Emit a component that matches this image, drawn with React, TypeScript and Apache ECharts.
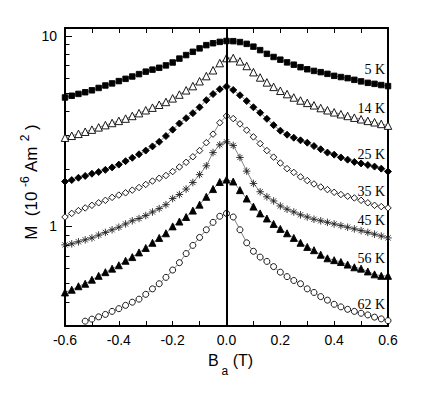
import React, { useEffect, useRef } from 'react';
import * as echarts from 'echarts';

// Applied field B_a (T)
const B_FIELD = [
  -0.6, -0.575, -0.55, -0.525, -0.5, -0.475, -0.45, -0.425, -0.4, -0.375, -0.35, -0.325,
  -0.3, -0.275, -0.25, -0.225, -0.2, -0.175, -0.15, -0.125, -0.1, -0.075, -0.05, -0.025,
  0,
  0.025, 0.05, 0.075, 0.1, 0.125, 0.15, 0.175, 0.2, 0.225, 0.25, 0.275, 0.3,
  0.325, 0.35, 0.375, 0.4, 0.425, 0.45, 0.475, 0.5, 0.525, 0.55, 0.575, 0.6,
];

// Magnetic moment M (10^-6 A m^2)
const M_5K = [
  4.75, 4.85, 4.96, 5.06, 5.18, 5.33, 5.49, 5.63, 5.79, 5.95, 6.12, 6.30,
  6.49, 6.65, 6.80, 7.00, 7.25, 7.60, 7.93, 8.25, 8.60, 8.94, 9.15, 9.30,
  9.40,
  9.38, 9.28, 9.08, 8.78, 8.42, 8.05, 7.75, 7.50, 7.26, 7.06, 6.85, 6.68,
  6.55, 6.45, 6.32, 6.17, 6.08, 6.00, 5.88, 5.77, 5.67, 5.60, 5.52, 5.45,
];
const M_14K = [
  2.92, 2.99, 3.06, 3.14, 3.22, 3.31, 3.40, 3.49, 3.58, 3.68, 3.80, 3.93,
  4.07, 4.20, 4.35, 4.50, 4.70, 4.92, 5.18, 5.45, 5.78, 6.15, 6.60, 7.20,
  7.65,
  7.65, 7.35, 6.95, 6.45, 6.05, 5.70, 5.40, 5.15, 4.95, 4.75, 4.58, 4.45,
  4.32, 4.18, 4.07, 3.97, 3.88, 3.80, 3.72, 3.65, 3.58, 3.52, 3.45, 3.38,
];
const M_25K = [
  1.72, 1.75, 1.80, 1.84, 1.89, 1.93, 1.98, 2.04, 2.11, 2.20, 2.29, 2.39,
  2.50, 2.63, 2.78, 2.98, 3.22, 3.47, 3.70, 3.93, 4.22, 4.60, 4.95, 5.25,
  5.42,
  5.20, 4.88, 4.55, 4.22, 3.95, 3.67, 3.40, 3.18, 3.03, 2.92, 2.83, 2.75,
  2.64, 2.54, 2.44, 2.38, 2.30, 2.24, 2.18, 2.14, 2.10, 2.06, 2.01, 1.94,
];
const M_35K = [
  1.12, 1.17, 1.21, 1.25, 1.29, 1.33, 1.37, 1.42, 1.46, 1.50, 1.55, 1.60,
  1.66, 1.73, 1.79, 1.85, 1.94, 2.05, 2.17, 2.32, 2.50, 2.75, 3.05, 3.50,
  3.80,
  3.68, 3.45, 3.20, 2.95, 2.72, 2.50, 2.31, 2.15, 2.01, 1.92, 1.82, 1.74,
  1.67, 1.61, 1.56, 1.51, 1.47, 1.44, 1.41, 1.37, 1.33, 1.29, 1.27, 1.25,
];
const M_45K = [
  0.80, 0.81, 0.83, 0.85, 0.87, 0.90, 0.93, 0.96, 0.99, 1.03, 1.07, 1.10,
  1.14, 1.19, 1.24, 1.30, 1.40, 1.47, 1.57, 1.70, 1.87, 2.08, 2.44, 2.68,
  2.78,
  2.66, 2.30, 1.95, 1.68, 1.52, 1.43, 1.36, 1.28, 1.23, 1.19, 1.15, 1.12,
  1.09, 1.07, 1.05, 1.03, 1.01, 0.99, 0.97, 0.95, 0.93, 0.91, 0.89, 0.87,
];
const M_56K = [
  0.45, 0.465, 0.485, 0.50, 0.525, 0.55, 0.575, 0.60, 0.625, 0.66, 0.69, 0.73,
  0.77, 0.82, 0.87, 0.92, 1.00, 1.06, 1.12, 1.21, 1.30, 1.43, 1.57, 1.71,
  1.76,
  1.72, 1.55, 1.40, 1.27, 1.17, 1.10, 1.03, 0.97, 0.92, 0.87, 0.82, 0.78,
  0.75, 0.71, 0.68, 0.665, 0.65, 0.63, 0.61, 0.60, 0.58, 0.56, 0.55, 0.55,
];
const M_62K = [
  null, null, null, 0.318, 0.326, 0.335, 0.345, 0.358, 0.37, 0.385, 0.40, 0.415,
  0.44, 0.47, 0.50, 0.54, 0.59, 0.645, 0.72, 0.795, 0.875, 0.96, 1.05, 1.13,
  1.17,
  1.12, 0.96, 0.82, 0.74, 0.69, 0.655, 0.615, 0.575, 0.545, 0.52, 0.50, 0.47,
  0.45, 0.428, 0.41, 0.39, 0.378, 0.367, 0.358, 0.35, 0.343, 0.334, 0.327, 0.32,
];

const TEMP_LABELS = ['5 K', '14 K', '25 K', '35 K', '45 K', '56 K', '62 K'];
const SERIES_VALUES = [M_5K, M_14K, M_25K, M_35K, M_45K, M_56K, M_62K];

const X_MIN = -0.6;
const X_MAX = 0.6;
const Y_MIN = 0.3;
const Y_MAX = 11;
const Y_MAJOR = [1, 10];
const Y_MINOR = [0.4, 0.5, 0.6, 0.7, 0.8, 0.9, 2, 3, 4, 5, 6, 7, 8, 9];

const ASTERISK = 'path://M5,0L5,10M0,5L10,5M1.5,1.5L8.5,8.5M8.5,1.5L1.5,8.5';

// marker styles (style only)
const MARKERS = [
  { symbol: 'rect', size: 5.5, fill: '#000', stroke: '#000' },
  { symbol: 'triangle', size: 7.5, fill: '#fff', stroke: '#000' },
  { symbol: 'diamond', size: 7, fill: '#000', stroke: '#000' },
  { symbol: 'diamond', size: 6.5, fill: '#fff', stroke: '#000' },
  { symbol: ASTERISK, size: 7.5, fill: 'rgba(0,0,0,0)', stroke: '#222' },
  { symbol: 'triangle', size: 7, fill: '#000', stroke: '#000' },
  { symbol: 'circle', size: 6, fill: '#fff', stroke: '#000' },
];

const SANS = 'Liberation Sans, Arial, sans-serif';
const SERIF = 'Liberation Serif, Times New Roman, serif';

export default function App() {
  const ref = useRef<HTMLDivElement>(null);

  useEffect(() => {
    document.body.style.margin = '0';
    const chart = echarts.init(ref.current!, null, { renderer: 'svg' });

    const series: any[] = SERIES_VALUES.map((vals, si) => {
      const m = MARKERS[si];
      const pts: any[] = [];
      vals.forEach((v, i) => {
        if (v == null) return;
        pts.push([B_FIELD[i], v]);
      });
      const data = pts.map((p, i) =>
        i === pts.length - 1
          ? {
              value: p,
              label: {
                show: true,
                formatter: TEMP_LABELS[si],
                position: 'top',
                align: 'right',
                offset: [-3, 0],
                distance: 6,
                fontFamily: SERIF,
                fontSize: 14,
                color: '#000',
              },
            }
          : p
      );
      const s: any = {
        type: 'line',
        name: TEMP_LABELS[si],
        xAxisIndex: 0,
        yAxisIndex: 0,
        data,
        symbol: m.symbol,
        symbolSize: m.size,
        showAllSymbol: true,
        lineStyle: { color: '#333', width: 0.6 },
        itemStyle: { color: m.fill, borderColor: m.stroke, borderWidth: 0.9 },
        emphasis: { disabled: true },
        z: 3 + si,
      };
      if (si === 0) {
        s.markLine = {
          silent: true,
          symbol: ['none', 'none'],
          label: { show: false },
          lineStyle: { color: '#000', width: 2, type: 'solid' },
          data: [{ xAxis: 0 }],
          z: 10,
        };
      }
      return s;
    });

    const option: any = {
      animation: false,
      backgroundColor: '#fff',
      textStyle: { fontFamily: SANS, color: '#000' },
      grid: { left: 65, right: 48, top: 28, bottom: 71, containLabel: false, outerBoundsMode: 'none' },
      xAxis: [
        {
          type: 'value',
          position: 'bottom',
          min: X_MIN,
          max: X_MAX,
          interval: 0.2,
          axisLine: { show: true, onZero: false, lineStyle: { color: '#000', width: 2 } },
          axisTick: { show: true, inside: true, length: 5, lineStyle: { color: '#000', width: 1 } },
          minorTick: { show: true, splitNumber: 2, length: 5, lineStyle: { color: '#000', width: 1 } },
          splitLine: { show: false },
          minorSplitLine: { show: false },
          axisLabel: {
            color: '#000',
            fontSize: 14,
            fontFamily: SANS,
            margin: 7,
            formatter: (v: number) => (Math.abs(v) < 1e-9 ? '0.0' : v.toFixed(1)),
          },
          name: 'B{sub|a} (T)',
          nameLocation: 'middle',
          nameMoveOverlap: false,
          nameGap: 17,
          nameTextStyle: {
            fontSize: 16,
            fontFamily: SANS,
            color: '#000',
            lineHeight: 34,
            padding: [0, 0, 0, 8],
            rich: {
              sub: { fontSize: 12, lineHeight: 12, verticalAlign: 'bottom', fontFamily: SANS, color: '#000', padding: [0, 0, 0, 3] },
            },
          },
        },
        {
          type: 'value',
          position: 'top',
          min: X_MIN,
          max: X_MAX,
          interval: 0.1,
          axisLine: { show: true, onZero: false, lineStyle: { color: '#000', width: 2 } },
          axisTick: { show: true, inside: true, length: 5, lineStyle: { color: '#000', width: 1 } },
          axisLabel: { show: false },
          splitLine: { show: false },
        },
      ],
      yAxis: [
        {
          type: 'log',
          logBase: 10,
          position: 'left',
          min: Y_MIN,
          max: Y_MAX,
          axisLine: { show: true, onZero: false, lineStyle: { color: '#000', width: 2 } },
          axisTick: { show: true, inside: true, length: 7, lineStyle: { color: '#000', width: 1 } },
          splitLine: { show: false },
          axisLabel: {
            color: '#000',
            fontSize: 14,
            fontFamily: SANS,
            margin: 8,
            formatter: (v: number) => {
              const hit = Y_MAJOR.find((t) => Math.abs(v - t) < 1e-6);
              return hit != null ? String(hit) : '';
            },
          },
          name: 'M  (10 {sup|-6} Am {sup|2} )',
          nameLocation: 'middle',
          nameRotate: 90,
          nameMoveOverlap: false,
          nameGap: 22,
          nameTextStyle: {
            fontSize: 17,
            fontFamily: SANS,
            color: '#000',
            lineHeight: 24,
            padding: [0, 10, 0, 0],
            rich: {
              sup: { fontSize: 12, lineHeight: 12, verticalAlign: 'top', fontFamily: SANS, color: '#000' },
            },
          },
        },
        {
          type: 'value',
          position: 'left',
          min: Math.log10(Y_MIN),
          max: Math.log10(Y_MAX),
          axisLine: { show: false, onZero: false },
          axisTick: {
            show: true,
            inside: true,
            length: 4.5,
            lineStyle: { color: '#000', width: 1 },
            customValues: Y_MINOR.map((v) => Math.log10(v)),
          },
          axisLabel: { show: false },
          splitLine: { show: false },
        },
        {
          type: 'value',
          position: 'right',
          min: 0,
          max: 1,
          axisLine: { show: true, onZero: false, lineStyle: { color: '#000', width: 2 } },
          axisTick: { show: false },
          axisLabel: { show: false },
          splitLine: { show: false },
        },
      ],
      series,
    };

    chart.setOption(option);
    return () => chart.dispose();
  }, []);

  return <div ref={ref} style={{ width: 436, height: 397 }} />;
}
